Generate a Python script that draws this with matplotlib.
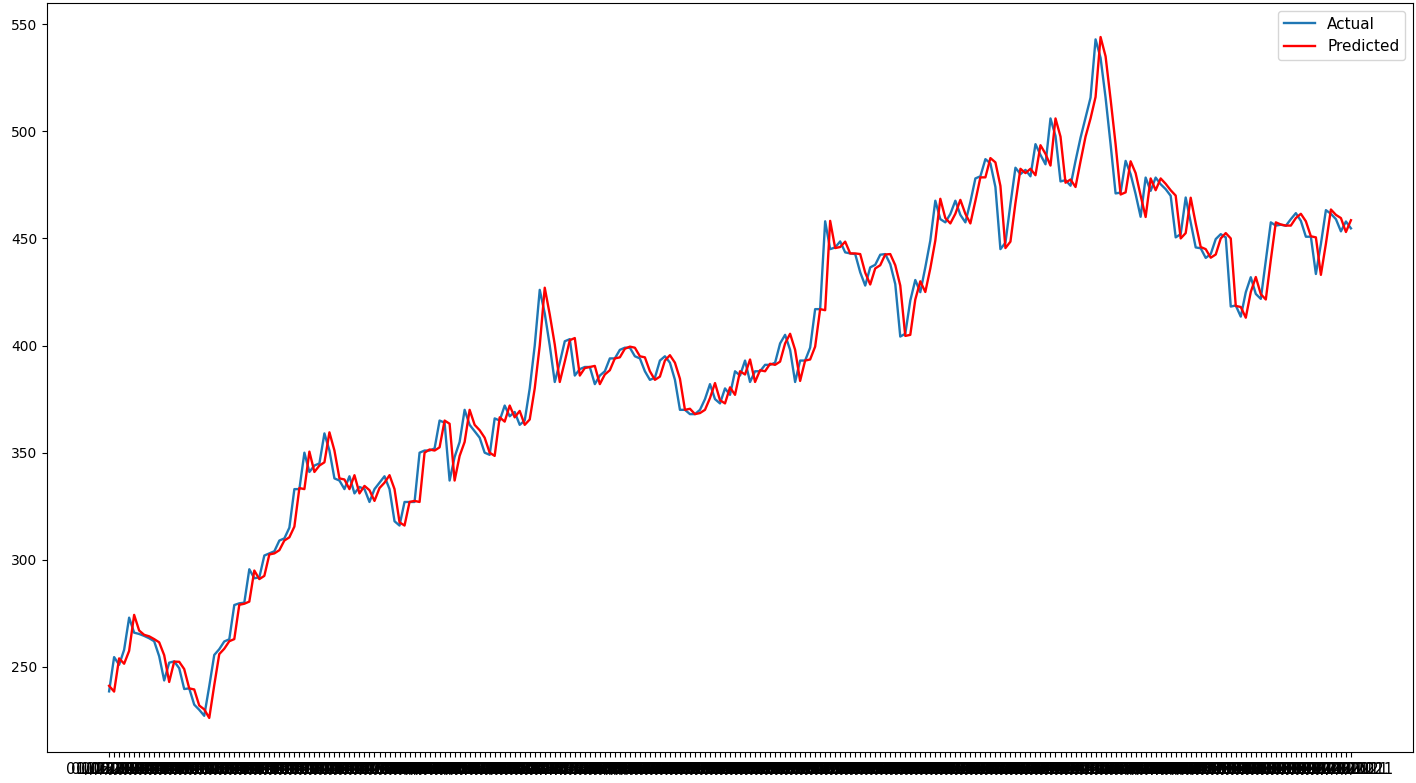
import matplotlib
matplotlib.use("Agg")
import matplotlib.pyplot as plt
import pandas as pd

actual = [238.6, 254.6, 251.0, 258.0, 273.0, 266.0, 265.4, 264.5, 263.4, 262.0,
          255.0, 243.7, 252.0, 252.6, 249.4, 239.7, 240.0, 232.4, 230.0, 227.2,
          241.0, 255.6, 258.3, 261.9, 262.9, 278.9, 279.7, 280.0, 295.6, 291.4,
          291.8, 302.0, 303.0, 304.0, 309.0, 310.0, 315.0, 333.0, 333.0, 350.0,
          341.0, 344.0, 345.0, 359.0, 351.0, 338.0, 337.0, 333.0, 339.0, 331.0,
          334.0, 333.0, 327.0, 333.0, 336.0, 339.0, 333.0, 318.0, 316.0, 327.0,
          327.0, 327.0, 350.0, 351.0, 351.0, 352.0, 365.0, 364.0, 337.0, 348.0,
          355.0, 370.0, 363.0, 360.0, 357.0, 350.0, 349.0, 366.0, 365.0, 372.0,
          367.0, 369.0, 363.0, 365.0, 380.0, 400.0, 426.0, 415.0, 400.0, 383.0,
          392.0, 402.0, 403.0, 386.0, 389.0, 390.0, 390.0, 382.0, 386.0, 388.0,
          394.0, 394.0, 398.0, 399.0, 399.0, 395.0, 394.0, 388.0, 384.0, 385.0,
          393.0, 395.0, 392.0, 384.0, 370.0, 370.0, 368.0, 368.0, 370.0, 375.0,
          382.0, 375.0, 373.0, 380.0, 377.0, 388.0, 386.0, 393.0, 383.0, 388.0,
          388.0, 391.0, 391.0, 392.0, 401.0, 405.0, 398.0, 383.0, 393.0, 393.0,
          399.0, 417.0, 417.0, 458.0, 445.0, 445.8, 448.6, 443.5, 443.0, 442.7,
          434.2, 428.0, 436.5, 437.7, 442.4, 442.7, 438.0, 428.7, 404.2, 405.5,
          421.0, 430.6, 424.9, 436.5, 449.0, 467.6, 459.0, 457.5, 461.4, 467.6,
          461.0, 457.5, 467.0, 478.0, 479.0, 487.0, 485.0, 474.0, 445.0, 448.0,
          466.0, 483.0, 480.0, 482.0, 479.0, 494.0, 489.0, 484.6, 506.0, 497.8,
          476.6, 477.2, 474.6, 486.2, 497.0, 506.4, 515.7, 542.9, 534.3, 515.7,
          494.0, 471.0, 471.4, 486.2, 480.0, 470.7, 460.1, 478.4, 472.2, 478.4,
          475.3, 473.0, 469.9, 450.5, 452.0, 469.1, 457.5, 445.8, 445.4, 440.9,
          442.7, 449.7, 452.0, 450.5, 418.2, 418.7, 413.5, 424.9, 431.9, 424.1,
          421.8, 439.6, 457.5, 456.0, 456.4, 455.9, 459.0, 461.8, 458.2, 450.8,
          450.8, 433.4, 447.4, 463.2, 461.5, 459.0, 453.3, 457.9, 454.7]

predicted = [241.2, 238.5, 254.0, 251.5, 257.5, 274.3, 267.0, 265.0, 264.3, 263.0,
             261.5, 255.5, 243.0, 252.5, 252.4, 249.0, 240.0, 239.5, 232.0, 230.2,
             226.2, 241.5, 256.0, 258.5, 262.0, 263.0, 279.0, 279.5, 280.5, 295.0,
             291.0, 292.5, 302.5, 303.0, 304.5, 309.0, 310.5, 315.5, 333.5, 333.0,
             350.5, 341.0, 344.0, 345.5, 359.5, 351.0, 338.0, 337.5, 333.0, 339.5,
             331.0, 334.5, 332.5, 327.5, 333.5, 336.0, 339.5, 333.0, 317.5, 316.0,
             327.0, 327.5, 327.0, 350.0, 351.5, 351.0, 352.5, 365.0, 363.5, 337.0,
             348.5, 355.0, 370.0, 363.0, 360.5, 357.0, 350.0, 348.5, 366.5, 364.5,
             372.0, 366.5, 369.5, 363.0, 365.5, 380.0, 400.0, 427.0, 414.5, 400.5,
             383.0, 392.5, 402.5, 403.5, 386.0, 389.5, 390.0, 390.5, 382.0, 386.5,
             388.5, 394.0, 394.5, 398.5, 399.5, 399.0, 395.0, 394.5, 388.0, 384.0,
             385.5, 393.0, 395.5, 392.0, 384.5, 370.0, 370.5, 368.0, 368.5, 370.0,
             375.5, 382.5, 374.5, 373.0, 380.5, 377.0, 388.0, 386.5, 393.5, 383.0,
             388.5, 388.0, 391.5, 391.0, 392.5, 401.0, 405.5, 398.0, 383.5, 393.0,
             393.5, 399.5, 417.0, 416.5, 458.2, 445.5, 446.0, 448.5, 443.0, 443.0,
             442.7, 434.0, 428.5, 436.0, 437.5, 442.5, 442.7, 437.5, 428.0, 404.5,
             405.0, 421.5, 430.0, 425.0, 436.0, 449.0, 468.5, 459.5, 457.0, 461.5,
             468.0, 461.5, 457.0, 467.5, 478.5, 478.5, 487.5, 485.5, 474.5, 445.5,
             448.5, 466.5, 482.5, 480.5, 482.5, 479.5, 493.5, 489.5, 484.0, 506.0,
             497.5, 476.0, 477.5, 474.0, 486.0, 497.5, 506.0, 516.0, 544.0, 535.0,
             515.0, 494.0, 470.5, 471.5, 486.0, 480.5, 470.0, 460.0, 478.0, 472.5,
             478.0, 475.5, 472.5, 470.0, 450.0, 452.5, 469.0, 457.0, 446.0, 445.0,
             441.0, 442.5, 450.0, 452.5, 450.0, 418.5, 418.0, 413.0, 425.0, 432.0,
             424.0, 421.5, 440.0, 457.5, 456.5, 456.0, 456.0, 459.5, 461.5, 458.0,
             451.0, 450.5, 433.0, 447.5, 463.5, 461.0, 459.5, 453.0, 458.5]

dates = [d.strftime("%m/%d/%Y") for d in pd.date_range("2017-01-06", periods=len(actual), freq="7D")]

fig = plt.figure(figsize=(14.16, 7.83), dpi=100)
ax = fig.add_axes([0.0332, 0.0396, 0.9647, 0.9566])
ax.plot(dates, actual, label="Actual", linewidth=1.7)
ax.plot(dates, predicted, color="red", label="Predicted", linewidth=1.7)
ax.tick_params(axis="x", labelsize=10.8)
ax.legend(loc="upper right", fontsize=11)
fig.savefig("out.png", dpi=100)
